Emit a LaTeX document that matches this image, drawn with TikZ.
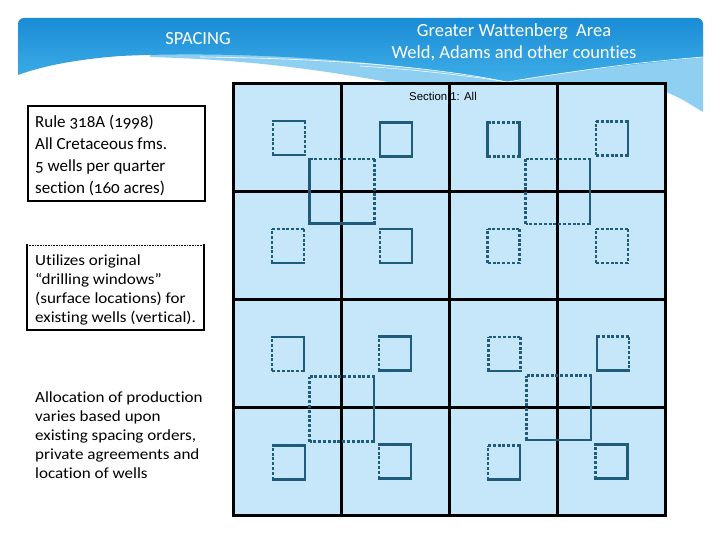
\documentclass[tikz,border=0pt]{standalone}
\usepackage{fontspec}
\setmainfont{Carlito}[Numbers=OldStyle, Ligatures={NoCommon}]
\newfontfamily\widef{Carlito}[Numbers=OldStyle, Ligatures={NoCommon}, FakeStretch=1.1]
\newfontfamily\arialf{Liberation Sans}
\definecolor{hdrtop}{HTML}{1A8CD5}
\definecolor{hdrbot}{HTML}{3FAEE8}
\definecolor{hdrlight}{HTML}{8ECFF2}
\definecolor{cellfill}{HTML}{C6E6FA}
\definecolor{wellc}{HTML}{1F5C7C}
\tikzset{
  gridline/.style={draw=black, line width=2.5pt},
  wl/.style={draw=wellc, line width=2.2pt},
  sl/.style={line cap=rect},
  dl/.style={dash pattern=on 3pt off 1.8pt, line cap=butt},
  bodytext/.style={anchor=north west, inner sep=0pt, align=left, text=black},
}
% well square: x, y (top-left), w, h, left, top, right, bottom styles
\newcommand\wellsq[8]{%
  \draw[wl,#5] (#1,#2+#4) -- (#1,#2);
  \draw[wl,#6] (#1,#2) -- (#1+#3,#2);
  \draw[wl,#7] (#1+#3,#2) -- (#1+#3,#2+#4);
  \draw[wl,#8] (#1+#3,#2+#4) -- (#1,#2+#4);
}
\begin{document}
\begin{tikzpicture}[x=1pt,y=-1pt]
\useasboundingbox (0,0) rectangle (720,540);
\fill[white] (0,0) rectangle (720,540);
% header light region
\fill[hdrlight] (150,57) .. controls (260,60) and (340,72) .. (440,92)
  -- (666,92) .. controls (680,98) .. (703,112) -- (703,40) -- (150,40) -- cycle;
% header dark band
\shade[top color=hdrtop, bottom color=hdrbot]
  (18,75) -- (18,24) arc (180:270:6) -- (697,18) arc (270:360:6) -- (703,57)
  .. controls (620,66) and (560,72) .. (507,82)
  .. controls (400,62) and (250,50) .. (120,56)
  .. controls (70,60) and (40,67) .. (18,75) -- cycle;
\draw[white, line width=0.6pt] (200,57) .. controls (300,58) and (420,64) .. (507,82)
  .. controls (580,70) and (640,62) .. (703,57);
\draw[white, line width=0.5pt] (360,66) .. controls (420,70) and (470,76) .. (507,82);
% header texts
\node[text=white, font=\fontsize{18.5}{22}\selectfont] (spacing) at (198,38.5) {SPACING};
\node[text=white, align=center, font=\fontsize{18.5}{22}\selectfont] (title) at (514,42)
  {Greater Wattenberg~ Area\\Weld, Adams and other counties};
% grid cells
\fill[cellfill] (233.5,83.5) rectangle (665.5,515.5);
\foreach \k in {0,1,2,3,4}{
  \draw[gridline, line cap=rect] (233.5+108*\k,83.5) -- (233.5+108*\k,515.5);
  \draw[gridline, line cap=rect] (233.5,83.5+108*\k) -- (665.5,83.5+108*\k);
}
\node[font=\arialf\fontsize{11.4}{13}\selectfont, inner sep=0pt] (section) at (443,96) {Section 1: All};
% wells
\wellsq{273}{121}{32}{34}{dl}{sl}{dl}{sl}
\wellsq{380}{122.5}{32}{34}{sl}{sl}{sl}{sl}
\wellsq{487.5}{122.5}{32}{34}{sl}{dl}{sl}{dl}
\wellsq{596}{121.5}{32}{34}{dl}{dl}{sl}{dl}
\wellsq{272}{229}{32}{34}{dl}{dl}{dl}{sl}
\wellsq{380}{229}{32}{34}{dl}{sl}{sl}{sl}
\wellsq{487.5}{229}{32}{34}{dl}{dl}{dl}{dl}
\wellsq{596}{229}{32}{34}{dl}{dl}{dl}{dl}
\wellsq{272}{337}{32}{34}{dl}{sl}{sl}{dl}
\wellsq{379}{336.5}{32}{34}{dl}{sl}{sl}{sl}
\wellsq{488.5}{337}{32}{34}{dl}{dl}{dl}{sl}
\wellsq{597}{336.5}{32}{34}{sl}{dl}{dl}{sl}
\wellsq{273}{445.5}{32}{34}{dl}{sl}{sl}{sl}
\wellsq{379}{444.5}{32}{34}{dl}{sl}{sl}{sl}
\wellsq{488}{445.5}{32}{34}{dl}{dl}{sl}{sl}
\wellsq{595.5}{444.5}{32}{34}{dl}{sl}{sl}{sl}
% big squares
\wellsq{309.5}{159}{65}{64.5}{sl}{dl}{dl}{sl}
\wellsq{525.5}{159}{64.5}{65}{dl}{dl}{sl}{dl}
\wellsq{309.5}{376.5}{64.5}{65}{dl}{dl}{sl}{dl}
\wellsq{526.5}{375.5}{64.5}{64.5}{dl}{dl}{sl}{sl}
% left boxes
\node[draw=black, line width=2pt, minimum width=177pt, minimum height=95pt, anchor=north west, inner sep=0pt] (box1) at (27,105) {};
\node[bodytext, font=\fontsize{17}{22}\selectfont] (t1) at (35,114.5)
  {Rule 318A (1998)\\All Cretaceous fms.\\5 wells per quarter\\section (160 acres)};
\coordinate (b2nw) at (27,245);
\coordinate (b2ne) at (204,245);
\coordinate (b2se) at (204,330);
\coordinate (b2sw) at (27,330);
\draw[black, line width=2.2pt, line cap=rect] (b2ne) -- (b2se) -- (b2sw) -- (b2nw);
\draw[black, line width=1pt, dash pattern=on 0.8pt off 0.8pt] (b2nw) -- (b2ne);
\node[bodytext, font=\widef\fontsize{15.5}{19}\selectfont] (t2) at (35,255)
  {Utilizes original\\“drilling windows”\\(surface locations) for\\existing wells (vertical).};
\node[bodytext, font=\widef\fontsize{15.5}{19}\selectfont] (t3) at (35,392)
  {Allocation of production\\varies based upon\\existing spacing orders,\\private agreements and\\location of wells};
\end{tikzpicture}
\end{document}
